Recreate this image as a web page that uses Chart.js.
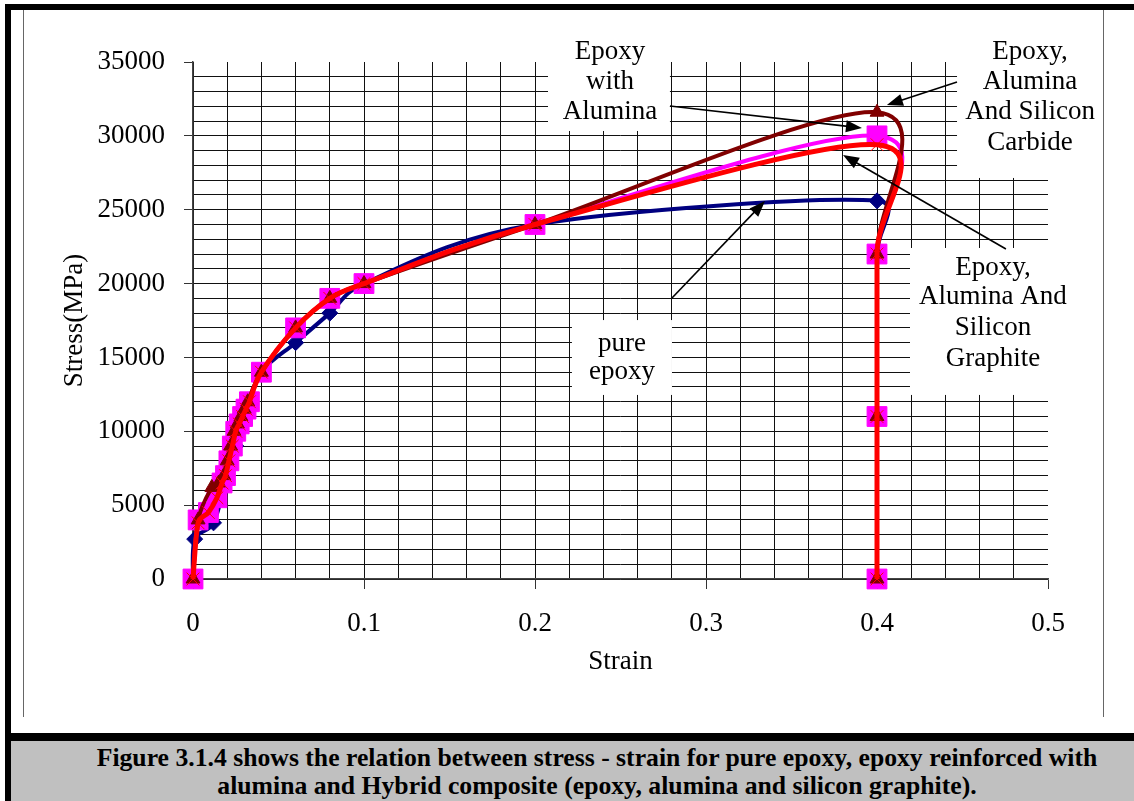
<!DOCTYPE html>
<html>
<head>
<meta charset="utf-8">
<script src="https://cdn.jsdelivr.net/npm/chart.js"></script>
<style>
  html, body { margin: 0; padding: 0; background: #fff; }
  body { width: 1134px; height: 801px; position: relative; overflow: hidden; }
  .chart-box { position: absolute; left: 0; top: 0; width: 1134px; height: 733px; }
  .bar { position: absolute; background: #000; }
  .rule { position: absolute; width: 1px; background: #666; }
  .caption {
    position: absolute; left: 11px; top: 741px; width: 1123px; height: 60px;
    background: #c0c0c0;
  }
  .caption p {
    position: absolute; left: 0; top: 3px; width: 1172px; margin: 0;
    text-align: center; font: bold 25.7px "Liberation Serif", "Times New Roman", serif;
    line-height: 28px; color: #000; white-space: nowrap;
  }
</style>
</head>
<body>
<div class="chart-box"><canvas id="myChart"></canvas></div>
<div class="bar" style="left:5px;top:4px;width:1129px;height:6px"></div>
<div class="bar" style="left:5px;top:4px;width:6px;height:797px"></div>
<div class="bar" style="left:5px;top:733px;width:1129px;height:8px"></div>
<div class="rule" style="left:23px;top:10px;height:707px"></div>
<div class="rule" style="left:1103px;top:10px;height:707px"></div>
<div class="caption">
  <p>Figure 3.1.4 shows the relation between stress - strain for pure epoxy, epoxy reinforced with<br>alumina and Hybrid composite (epoxy, alumina and silicon graphite).</p>
</div>
<script>
// data
const strainPure = [0, 0.001, 0.012, 0.02, 0.025, 0.03, 0.04, 0.06, 0.08, 0.1, 0.2, 0.4, 0.4, 0.4, 0.4];
const stressPure = [0, 2700, 3800, 7000, 9000, 11000, 14000, 16000, 18000, 20000, 24000, 25600, 22000, 11000, 0];

const strainAlumina = [0, 0.003, 0.009, 0.014, 0.017, 0.019, 0.021, 0.023, 0.025, 0.027, 0.029, 0.031, 0.033, 0.04, 0.06, 0.08, 0.1, 0.2, 0.4, 0.4, 0.4, 0.4];
const stressAlumina = [0, 4000, 4500, 5500, 6500, 7000, 8000, 9000, 10000, 10500, 11000, 11500, 12000, 14000, 17000, 19000, 20000, 24000, 30000, 22000, 11000, 0];

const strainCarbide = [0, 0.003, 0.011, 0.015, 0.018, 0.02, 0.022, 0.024, 0.026, 0.028, 0.03, 0.032, 0.04, 0.06, 0.08, 0.1, 0.2, 0.4, 0.4, 0.4, 0.4];
const stressCarbide = [0, 4000, 6200, 6500, 7000, 8000, 9000, 10000, 10500, 11000, 11500, 12000, 14000, 17000, 19000, 20000, 24000, 31600, 22000, 11000, 0];

const strainGraphite = [0, 0.003, 0.009, 0.014, 0.017, 0.019, 0.021, 0.023, 0.025, 0.027, 0.029, 0.031, 0.033, 0.04, 0.06, 0.08, 0.1, 0.2, 0.4, 0.4, 0.4, 0.4];
const stressGraphite = [0, 3800, 4500, 5500, 6500, 7000, 8000, 9000, 10000, 10500, 11000, 11500, 12000, 14000, 17000, 19000, 20000, 24000, 29400, 22000, 11000, 0];

const xTickLabels = ["0", "0.1", "0.2", "0.3", "0.4", "0.5"];
const yTickLabels = ["0", "5000", "10000", "15000", "20000", "25000", "30000", "35000"];

const serif = "'Liberation Serif', 'Times New Roman', serif";
const toPoints = (xs, ys) => xs.map((x, i) => ({ x: x, y: ys[i] }));
const hidden = "rgba(0,0,0,0)";
const gridColor = "#111";

// callout boxes, placed in data units
const notes = [
  {
    lines: ["Epoxy", "with", "Alumina"],
    box: [0.2076, 36830, 0.2789, 30330],
    textX: 0.2439, textY: [35680, 33650, 31620],
    from: [0.2789, 32020], to: [0.3912, 30530],
  },
  {
    lines: ["Epoxy,", "Alumina", "And Silicon", "Carbide"],
    box: [0.4468, 36830, 0.5304, 27150],
    textX: 0.4895, textY: [35680, 33650, 31620, 29520],
    from: [0.4468, 33650], to: [0.4058, 32090],
  },
  {
    lines: ["Epoxy,", "Alumina And", "Silicon", "Graphite"],
    box: [0.4193, 22410, 0.5158, 12460],
    textX: 0.4678, textY: [21060, 19090, 16990, 14890],
    from: [0.4754, 22340], to: [0.3801, 28700],
  },
  {
    lines: ["pure", "epoxy"],
    box: [0.2216, 17530, 0.2801, 12460],
    textX: 0.2509, textY: [15900, 14000],
    from: [0.2801, 19020], to: [0.3345, 25590],
  },
];

function drawArrow(ctx, x1, y1, x2, y2) {
  const a = Math.atan2(y2 - y1, x2 - x1);
  const c = Math.cos(a);
  const s = Math.sin(a);
  ctx.beginPath();
  ctx.moveTo(x1, y1);
  ctx.lineTo(x2 - 12 * c, y2 - 12 * s);
  ctx.stroke();
  ctx.beginPath();
  ctx.moveTo(x2, y2);
  ctx.lineTo(x2 - 16 * c + 6 * s, y2 - 16 * s - 6 * c);
  ctx.lineTo(x2 - 16 * c - 6 * s, y2 - 16 * s + 6 * c);
  ctx.closePath();
  ctx.fill();
}

const dist = (a, b) => Math.hypot(b.x - a.x, b.y - a.y);

// spreadsheet-style smoothing: Catmull-Rom (1/6) control points, clamped on short segments
function smoothPoints(pts) {
  const n = pts.length;
  for (let i = 0; i < n - 1; i++) {
    const p0 = pts[i > 0 ? i - 1 : i];
    const p1 = pts[i];
    const p2 = pts[i + 1];
    const p3 = pts[i + 2 < n ? i + 2 : i + 1];
    const d12 = dist(p1, p2);
    const d02 = dist(p0, p2);
    const d13 = dist(p1, p3);
    let f0 = 1 / 6;
    let f3 = 1 / 6;
    if (d02 > 0 && d02 / 6 > d12 / 2) f0 = d12 / 2 / d02;
    if (d13 > 0 && d13 / 6 > d12 / 2) f3 = d12 / 2 / d13;
    p1.cp2x = p1.x + (p2.x - p0.x) * f0;
    p1.cp2y = p1.y + (p2.y - p0.y) * f0;
    p2.cp1x = p2.x - (p3.x - p1.x) * f3;
    p2.cp1y = p2.y - (p3.y - p1.y) * f3;
  }
  pts[0].cp1x = pts[0].x;
  pts[0].cp1y = pts[0].y;
  pts[n - 1].cp2x = pts[n - 1].x;
  pts[n - 1].cp2y = pts[n - 1].y;
}

const smoothPlugin = {
  id: "smooth",
  afterDatasetUpdate(chart, args) {
    const meta = args.meta;
    if (!meta.dataset || meta.data.length < 2) return;
    smoothPoints(meta.data);
    meta.dataset._pointsUpdated = true;
  },
};

const notesPlugin = {
  id: "notes",
  beforeDatasetsDraw(chart) {
    const { ctx, scales } = chart;
    ctx.save();
    notes.forEach((n) => {
      const x1 = scales.x.getPixelForValue(n.box[0]);
      const y1 = scales.y.getPixelForValue(n.box[1]);
      const x2 = scales.x.getPixelForValue(n.box[2]);
      const y2 = scales.y.getPixelForValue(n.box[3]);
      ctx.fillStyle = "#fff";
      ctx.fillRect(x1, y1, x2 - x1, y2 - y1);
      ctx.fillStyle = "#000";
      ctx.font = "27px " + serif;
      ctx.textAlign = "center";
      ctx.textBaseline = "middle";
      n.lines.forEach((t, i) => {
        ctx.fillText(t, scales.x.getPixelForValue(n.textX), scales.y.getPixelForValue(n.textY[i]));
      });
    });
    ctx.restore();
  },
  afterDatasetsDraw(chart) {
    const { ctx, scales } = chart;
    ctx.save();
    ctx.strokeStyle = "#000";
    ctx.fillStyle = "#000";
    ctx.lineWidth = 1.6;
    notes.forEach((n) => {
      drawArrow(
        ctx,
        scales.x.getPixelForValue(n.from[0]),
        scales.y.getPixelForValue(n.from[1]),
        scales.x.getPixelForValue(n.to[0]),
        scales.y.getPixelForValue(n.to[1])
      );
    });
    ctx.restore();
  },
};

const isMajorX = (v) => Math.abs(v * 10 - Math.round(v * 10)) < 1e-6;
const isMajorY = (v) => v % 5000 === 0;

//datasets: red drawn last (on top)
const data = {
  datasets: [
    {
      label: "Epoxy, Alumina And Silicon Graphite",
      data: toPoints(strainGraphite, stressGraphite),
      borderColor: "#ff0000",
      backgroundColor: "#ff0000",
      borderWidth: 5,
      pointStyle: "crossRot",
      pointRadius: 9,
      pointBorderWidth: 1,
      order: 0,
    },
    {
      label: "Epoxy, Alumina And Silicon Carbide",
      data: toPoints(strainCarbide, stressCarbide),
      borderColor: "#800000",
      backgroundColor: "#800000",
      borderWidth: 4,
      pointStyle: "triangle",
      pointRadius: 8,
      pointBorderWidth: 1,
      order: 1,
    },
    {
      label: "Epoxy with Alumina",
      data: toPoints(strainAlumina, stressAlumina),
      borderColor: "#ff00ff",
      backgroundColor: "#ff00ff",
      borderWidth: 4,
      pointStyle: "rect",
      pointRadius: 14,
      pointBorderWidth: 1,
      order: 2,
    },
    {
      label: "pure epoxy",
      data: toPoints(strainPure, stressPure),
      borderColor: "#000080",
      backgroundColor: "#000080",
      borderWidth: 4,
      pointStyle: "rectRot",
      pointRadius: 8,
      pointBorderWidth: 1,
      order: 3,
    },
  ],
};
data.datasets.forEach((d) => {
  d.showLine = true;
  d.tension = 0.4;
  d.clip = false;
});

//config
const config = {
  type: "scatter",
  data,
  options: {
    responsive: true,
    maintainAspectRatio: false,
    animation: false,
    layout: { padding: { left: 23, top: 62, right: 86, bottom: 0 } },
    scales: {
      x: {
        type: "linear",
        min: 0,
        max: 0.5,
        ticks: {
          stepSize: 0.02,
          autoSkip: false,
          maxRotation: 0,
          padding: 19,
          color: "#000",
          font: { family: serif, size: 27 },
          callback: (v) => (isMajorX(v) ? xTickLabels[Math.round(v * 10)] : ""),
        },
        grid: {
          color: (ctx) => (ctx.tick && ctx.tick.value > 0.499 ? hidden : gridColor),
          tickColor: (ctx) => (ctx.tick && isMajorX(ctx.tick.value) ? "#333" : hidden),
          tickLength: 10,
          lineWidth: 1,
        },
        border: { color: "#444", width: 1.5 },
        title: {
          display: true,
          text: "Strain",
          color: "#000",
          font: { family: serif, size: 27 },
          padding: { bottom: 55 },
        },
        afterFit: (s) => {
          s.height = 154;
        },
      },
      y: {
        min: 0,
        max: 35000,
        ticks: {
          stepSize: 1000,
          autoSkip: false,
          padding: 19,
          color: "#000",
          font: { family: serif, size: 27 },
          callback: (v) => (isMajorY(v) ? yTickLabels[v / 5000] : ""),
        },
        grid: {
          color: (ctx) => (ctx.tick && ctx.tick.value >= 35000 ? hidden : gridColor),
          tickColor: (ctx) => (ctx.tick && isMajorY(ctx.tick.value) ? "#333" : hidden),
          tickLength: 9,
          lineWidth: 1,
        },
        border: { color: "#444", width: 1.5 },
        title: {
          display: true,
          text: "Stress(MPa)",
          color: "#000",
          font: { family: serif, size: 27 },
          padding: { top: 36 },
        },
        afterFit: (s) => {
          s.width = 170;
        },
      },
    },
    plugins: {
      legend: { display: false },
      tooltip: { enabled: false },
    },
  },
  plugins: [smoothPlugin, notesPlugin],
};

//create chart
const myChart = new Chart(document.getElementById("myChart"), config);
</script>
</body>
</html>
